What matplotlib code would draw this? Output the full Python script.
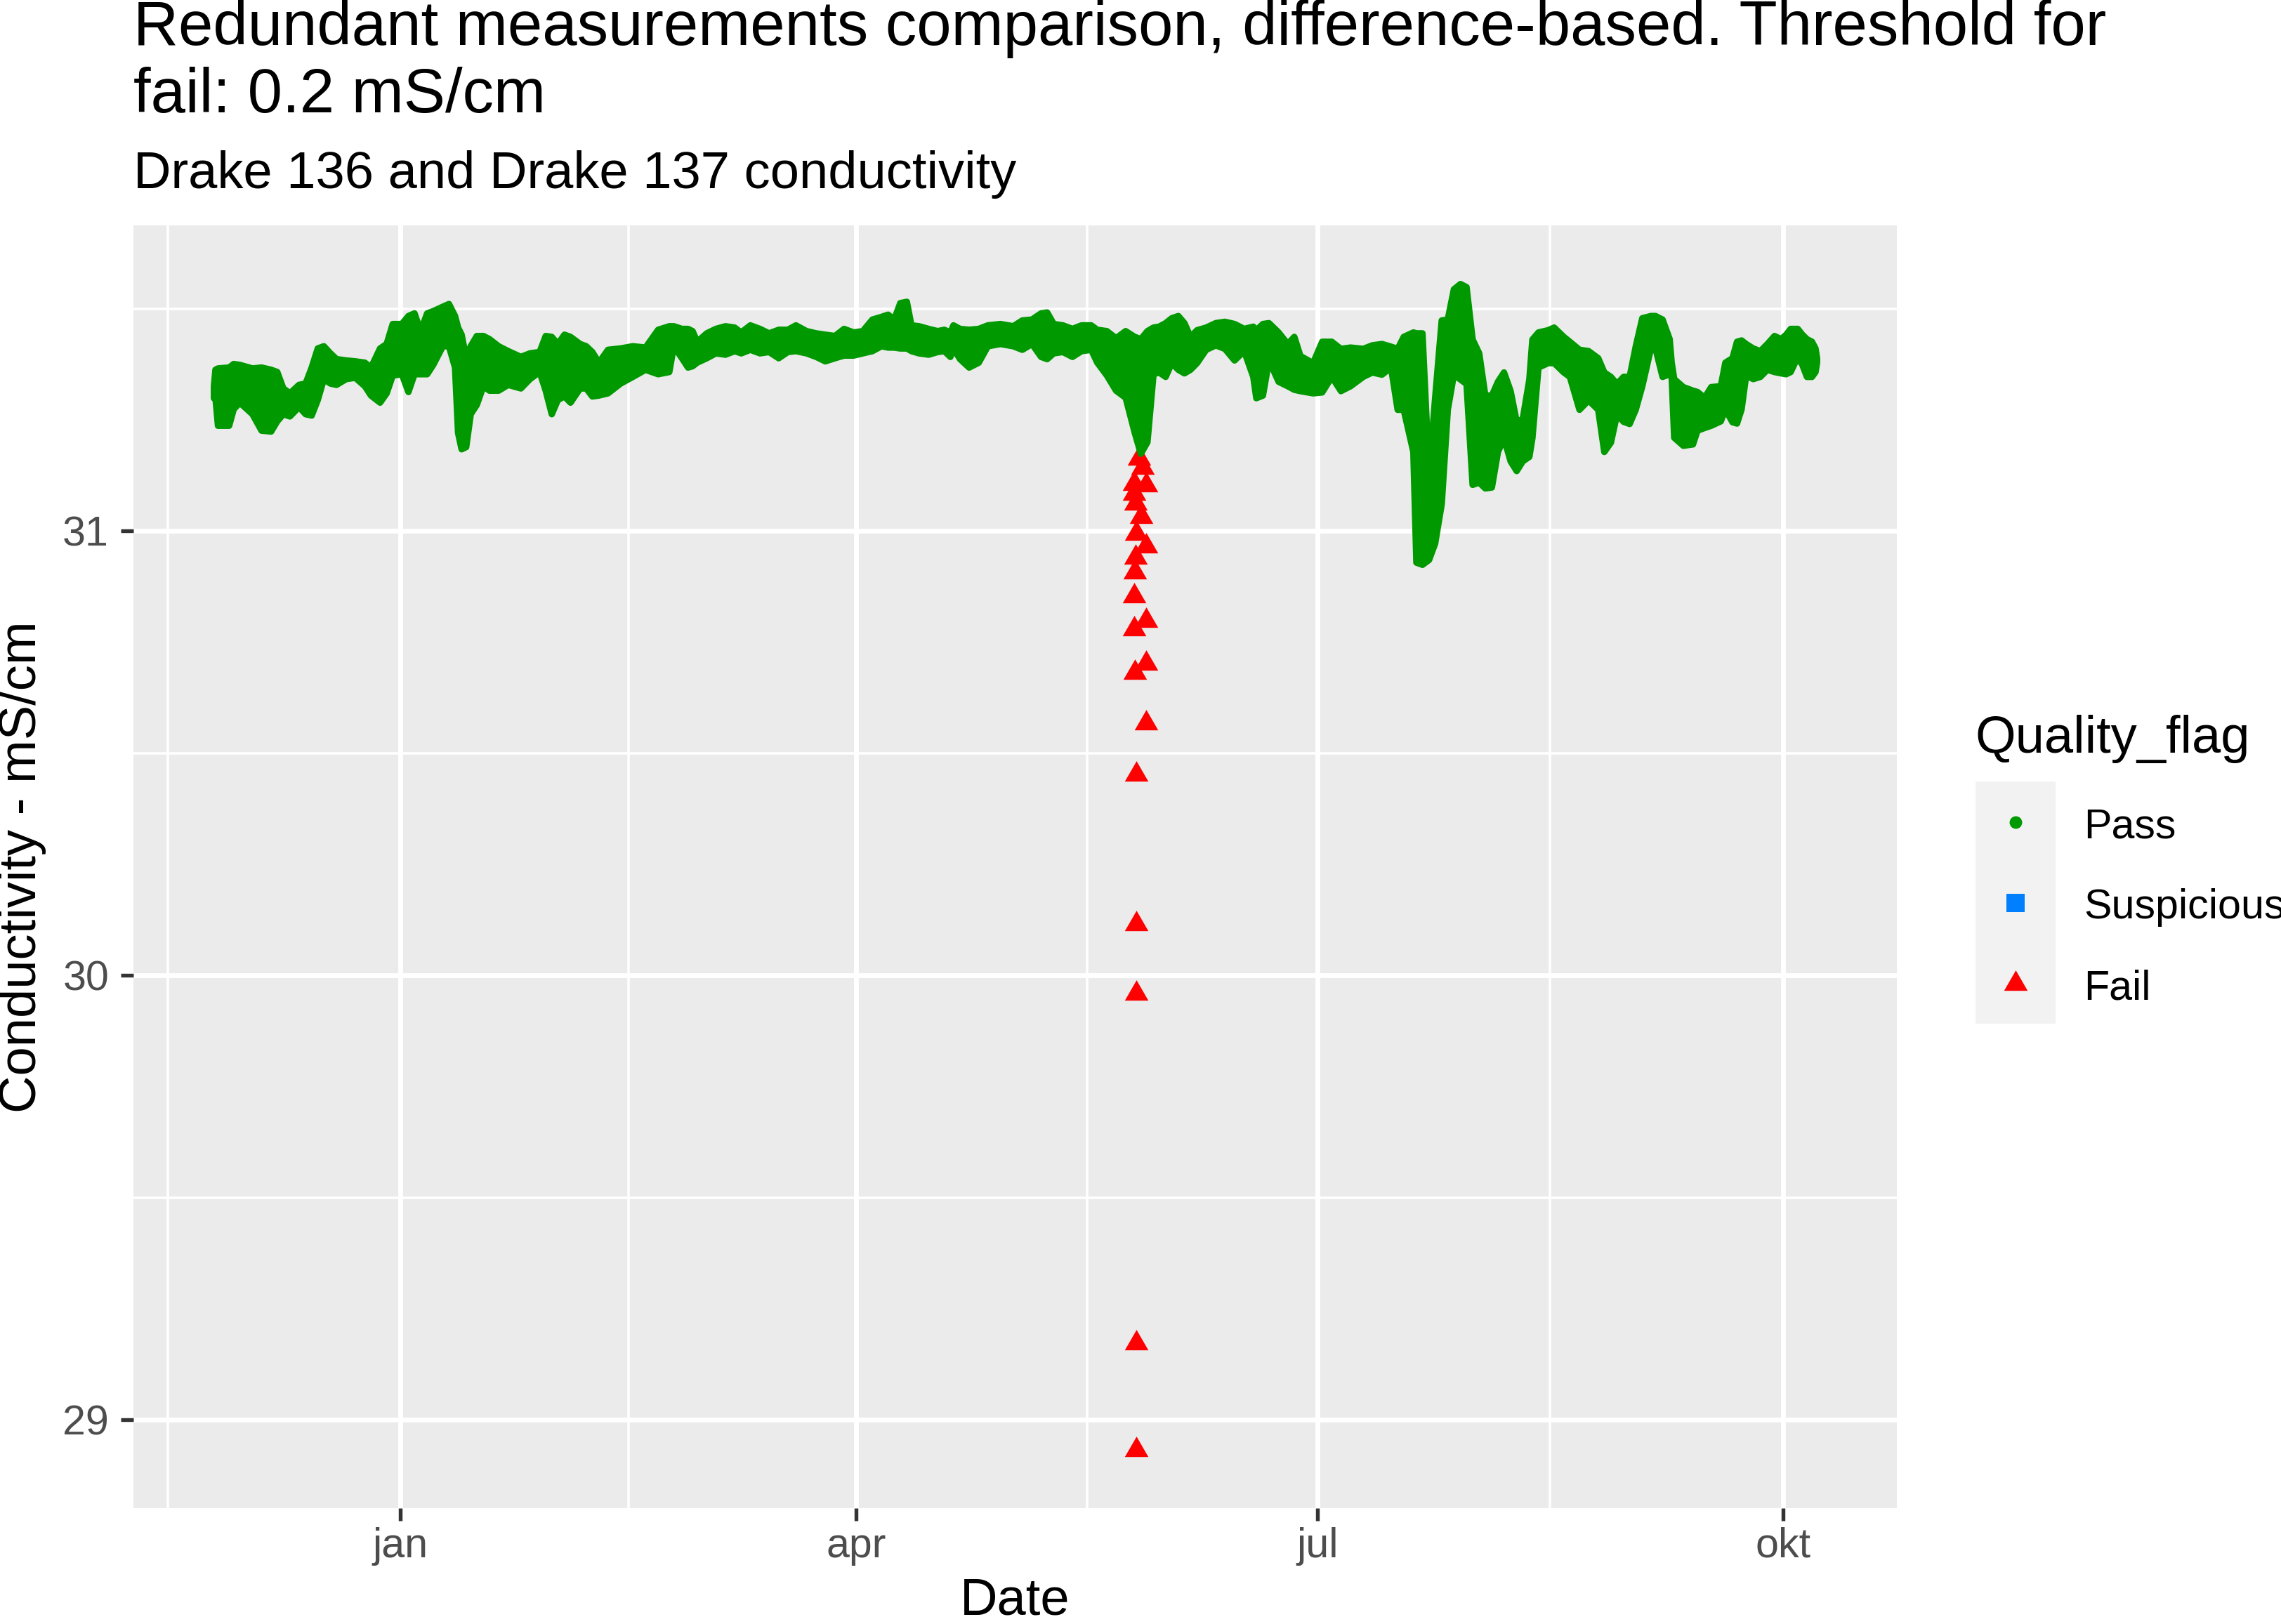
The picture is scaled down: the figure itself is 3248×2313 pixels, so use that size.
"""Redundant conductivity measurements (Drake 136 / Drake 137), quality flags."""

import matplotlib
matplotlib.use("Agg")
import matplotlib.pyplot as plt
import matplotlib.dates as mdates
from matplotlib.lines import Line2D
import numpy as np
import pandas as pd

plt.rcParams["font.family"] = ["Liberation Sans", "DejaVu Sans"]

START = pd.Timestamp("2019-01-01")

# Pass points: days since 1 Jan, upper and lower edge of the point cloud (mS/cm)
pass_days = [
    -36.9, -36.6, -36.1, -33.9, -33.0, -31.8, -29.3, -27.5, -25.6, -24.4,
    -23.2, -21.9, -20.1, -18.8, -17.6, -16.4, -15.2, -13.9, -12.7, -10.8,
    -9.0, -7.1, -5.9, -4.1, -2.8, -1.6, 0.2, 1.5, 2.7, 3.9,
    5.2, 6.4, 8.3, 9.5, 10.7, 11.3, 12.0, 12.9, 13.8, 15.0,
    16.3, 17.5, 19.3, 21.2, 23.7, 25.5, 27.4, 28.6, 29.8, 31.0,
    32.3, 33.5, 35.4, 36.6, 37.8, 39.1, 40.9, 43.4, 45.8, 48.3, 50.8,
    53.0, 53.9, 55.5, 56.7, 57.6, 58.5, 60.4, 62.2, 64.1, 65.9,
    67.2, 69.0, 70.9, 72.7, 74.6, 76.4, 78.0, 80.1, 82.0, 83.8,
    85.7, 87.5, 89.4, 91.2, 93.1, 94.9, 96.2, 97.4, 98.6, 99.9,
    100.8, 102.3, 104.2, 106.0, 107.3, 108.5, 109.1, 110.4, 112.2, 114.1,
    115.9, 118.4, 120.9, 122.7, 124.6, 126.4, 127.6, 128.9, 130.7, 132.6,
    134.4, 136.3, 137.5, 139.4, 141.2, 143.1, 144.9, 146.1, 147.4, 148.6,
    149.7, 151.0, 152.2, 153.5, 154.7, 155.9, 157.2, 159.0, 160.9, 162.7,
    164.6, 166.5, 168.3, 168.9, 170.2, 171.4, 173.3, 175.1, 176.4, 177.6,
    180.1, 181.9, 183.8, 185.6, 187.5, 190.0, 191.8, 193.7, 195.5, 196.8,
    198.0, 199.9, 200.5, 201.7, 203.0, 204.2, 205.5, 206.7, 207.9, 209.2,
    210.4, 211.6, 212.9, 214.1, 215.4, 216.6, 217.8, 219.1, 220.3, 221.5,
    222.8, 223.4, 224.6, 226.5, 227.7, 229.6, 230.8, 232.7, 234.5, 236.4,
    237.6, 238.9, 240.1, 241.4, 242.6, 243.8, 245.1,
    246.8, 247.7, 249.1, 250.5, 250.9, 251.4, 253.2, 255.1, 256.0, 257.4,
    258.7, 260.6, 261.5, 262.9, 263.8, 264.7, 265.6, 267.0, 268.4, 269.8,
    271.2, 272.5, 273.5, 274.4, 275.8, 276.7, 277.6, 278.6, 279.3, 279.6,
]
pass_high = [
    31.327, 31.364, 31.367, 31.369, 31.377, 31.375, 31.367, 31.369, 31.364, 31.359,
    31.322, 31.311, 31.330, 31.333, 31.369, 31.412, 31.417, 31.401, 31.388, 31.385,
    31.383, 31.380, 31.369, 31.412, 31.422, 31.467, 31.467, 31.485, 31.491, 31.451,
    31.491, 31.496, 31.506, 31.512, 31.485, 31.459, 31.443, 31.390, 31.417, 31.440,
    31.440, 31.433, 31.417, 31.406, 31.393, 31.401, 31.404, 31.440, 31.438, 31.422,
    31.443, 31.438, 31.422, 31.417, 31.404, 31.380, 31.409, 31.412, 31.417, 31.414, 31.454,
    31.462, 31.462, 31.456, 31.456, 31.451, 31.427, 31.446, 31.456, 31.462, 31.459,
    31.448, 31.464, 31.456, 31.446, 31.454, 31.454, 31.464, 31.451, 31.446, 31.443,
    31.440, 31.456, 31.448, 31.451, 31.477, 31.483, 31.488, 31.477, 31.514, 31.517,
    31.464, 31.462, 31.456, 31.451, 31.454, 31.448, 31.464, 31.456, 31.454, 31.456,
    31.464, 31.467, 31.462, 31.475, 31.477, 31.491, 31.493, 31.467, 31.464, 31.456,
    31.464, 31.464, 31.454, 31.451, 31.435, 31.451, 31.438, 31.433, 31.451, 31.459,
    31.461, 31.469, 31.480, 31.485, 31.469, 31.438, 31.453, 31.459, 31.469, 31.472,
    31.467, 31.456, 31.461, 31.453, 31.467, 31.469, 31.448, 31.422, 31.438, 31.395,
    31.379, 31.427, 31.427, 31.411, 31.414, 31.411, 31.419, 31.422, 31.416, 31.411,
    31.438, 31.448, 31.446, 31.446, 31.130, 31.300, 31.475, 31.477, 31.545, 31.557,
    31.550, 31.432, 31.401, 31.306, 31.306, 31.337, 31.358, 31.316, 31.247, 31.253,
    31.342, 31.432, 31.448, 31.453, 31.459, 31.438, 31.427, 31.409, 31.406, 31.390,
    31.358, 31.348, 31.332, 31.348, 31.348, 31.416, 31.480,
    31.485, 31.485, 31.477, 31.433, 31.380, 31.343, 31.325, 31.317, 31.314, 31.301,
    31.325, 31.327, 31.380, 31.390, 31.427, 31.430, 31.422, 31.412, 31.406, 31.422,
    31.440, 31.433, 31.443, 31.456, 31.456, 31.443, 31.433, 31.427, 31.412, 31.390,
]
pass_low = [
    31.300, 31.301, 31.238, 31.238, 31.275, 31.290, 31.264, 31.227, 31.225, 31.248,
    31.264, 31.259, 31.280, 31.264, 31.261, 31.296, 31.343, 31.333, 31.330, 31.343,
    31.346, 31.327, 31.306, 31.290, 31.311, 31.351, 31.354, 31.314, 31.354, 31.354,
    31.354, 31.375, 31.417, 31.417, 31.369, 31.222, 31.185, 31.190, 31.264, 31.285,
    31.327, 31.317, 31.317, 31.330, 31.322, 31.343, 31.359, 31.317, 31.264, 31.296,
    31.304, 31.290, 31.322, 31.322, 31.304, 31.306, 31.311, 31.333, 31.348, 31.364, 31.354,
    31.359, 31.417, 31.390, 31.369, 31.372, 31.380, 31.390, 31.401, 31.398, 31.406,
    31.401, 31.409, 31.401, 31.404, 31.390, 31.404, 31.406, 31.401, 31.393, 31.383,
    31.390, 31.396, 31.396, 31.401, 31.406, 31.417, 31.414, 31.414, 31.412, 31.412,
    31.406, 31.401, 31.398, 31.404, 31.406, 31.393, 31.412, 31.388, 31.369, 31.380,
    31.417, 31.422, 31.417, 31.409, 31.422, 31.393, 31.388, 31.401, 31.404, 31.393,
    31.406, 31.409, 31.380, 31.351, 31.317, 31.301, 31.222, 31.175, 31.201, 31.354,
    31.358, 31.348, 31.379, 31.364, 31.356, 31.364, 31.379, 31.409, 31.419, 31.411,
    31.385, 31.406, 31.348, 31.300, 31.306, 31.385, 31.337, 31.327, 31.319, 31.316,
    31.311, 31.313, 31.348, 31.316, 31.327, 31.348, 31.358, 31.353, 31.369, 31.274,
    31.274, 31.179, 30.930, 30.925, 30.936, 30.973, 31.062, 31.274, 31.353, 31.342,
    31.332, 31.105, 31.110, 31.097, 31.099, 31.179, 31.210, 31.158, 31.136, 31.158,
    31.168, 31.210, 31.369, 31.379, 31.379, 31.358, 31.348, 31.274, 31.295, 31.274,
    31.179, 31.200, 31.263, 31.247, 31.242, 31.274, 31.327,
    31.412, 31.412, 31.348, 31.354, 31.348, 31.211, 31.193, 31.196, 31.227, 31.233,
    31.238, 31.248, 31.275, 31.246, 31.243, 31.275, 31.351, 31.343, 31.348, 31.364,
    31.359, 31.356, 31.354, 31.359, 31.393, 31.375, 31.348, 31.348, 31.359, 31.380,
]

# Fail points
fail_days = [
    145.8, 146.5, 144.9, 147.2, 144.9, 145.1, 146.3, 145.3, 147.2, 145.1, 145.0,
    144.9, 147.2, 144.9, 147.2, 145.0, 147.2, 145.2, 145.2, 145.2, 145.2, 145.2,
]
fail_values = [
    31.164, 31.143, 31.107, 31.104, 31.084, 31.062, 31.032, 30.994, 30.966, 30.941,
    30.908, 30.854, 30.798, 30.780, 30.702, 30.681, 30.567, 30.452, 30.115, 29.960,
    29.172, 28.932,
]

# Suspicious points: none in this period
suspicious_days = []
suspicious_values = []

flag_labels = ["Pass", "Suspicious", "Fail"]
flag_colors = ["#009900", "#0080FF", "#FF0000"]

month_labels = {1: "jan", 4: "apr", 7: "jul", 10: "okt"}

W, H = 3248, 2313
DPI = 300
TRI = (3, 0, 0)
TRI_SIZE = 9.3


def to_dates(days):
    return mdates.date2num(START + pd.to_timedelta(np.asarray(days, dtype=float), unit="D"))


def month_formatter(x, pos):
    return month_labels.get(mdates.num2date(x).month, "")


fig = plt.figure(figsize=(W / DPI, H / DPI), dpi=DPI)
ax = fig.add_axes([190 / W, 1 - 2148 / H, (2701 - 190) / W, (2148 - 321) / H])
ax.set_facecolor("#EBEBEB")
for spine in ax.spines.values():
    spine.set_visible(False)

x_pass = to_dates(pass_days)
ax.scatter(to_dates(fail_days), fail_values, marker=TRI, s=TRI_SIZE ** 2,
           color=flag_colors[2], linewidths=0, zorder=2)
ax.scatter(to_dates(suspicious_days), suspicious_values, marker="s",
           color=flag_colors[1], zorder=2)
ax.fill_between(x_pass, pass_low, pass_high, facecolor=flag_colors[0],
                edgecolor=flag_colors[0], linewidth=2.2, joinstyle="round",
                zorder=3)

quarters = pd.date_range("2018-10-01", "2020-01-01", freq="QS")
major = [q for q in quarters if pd.Timestamp("2019-01-01") <= q <= pd.Timestamp("2019-10-01")]
minor = [quarters[i] + (quarters[i + 1] - quarters[i]) / 2 for i in range(len(quarters) - 1)]
ax.set_xticks(mdates.date2num(major))
ax.set_xticks(mdates.date2num(minor), minor=True)
ax.xaxis.set_major_formatter(plt.FuncFormatter(month_formatter))
ax.set_yticks([29, 30, 31])
ax.set_yticks([28.5, 29.5, 30.5, 31.5], minor=True)
ax.set_yticklabels(["29", "30", "31"])

# limits with ggplot-style 5 % expansion (set after the ticks)
x_all = np.concatenate([x_pass, to_dates(fail_days)])
y_all = np.concatenate([pass_low, pass_high, fail_values])
x_pad = 0.05 * (x_all.max() - x_all.min())
y_pad = 0.05 * (y_all.max() - y_all.min())
ax.set_xlim(x_all.min() - x_pad, x_all.max() + x_pad)
ax.set_ylim(y_all.min() - y_pad, y_all.max() + y_pad)

ax.grid(which="major", color="white", linewidth=1.65)
ax.grid(which="minor", color="white", linewidth=0.85)
ax.set_axisbelow(True)
ax.tick_params(which="major", length=4.4, width=1.3, color="#333333",
               labelsize=14.2, labelcolor="#4D4D4D")
ax.tick_params(axis="x", which="major", pad=2)
ax.tick_params(axis="y", which="major", pad=4)
ax.tick_params(which="minor", length=0)

fig.text(190 / W, 1 - 64 / H,
         "Redundant measurements comparison, difference-based. Threshold for",
         fontsize=21.3, va="baseline", ha="left")
fig.text(190 / W, 1 - 160 / H, "fail: 0.2 mS/cm",
         fontsize=21.3, va="baseline", ha="left")
fig.text(190 / W, 1 - 268 / H, "Drake 136 and Drake 137 conductivity",
         fontsize=17.8, va="baseline", ha="left")
fig.text(1445.5 / W, 1 - 2300 / H, "Date", fontsize=17.8, ha="center", va="baseline")
fig.text(32 / W, 1 - 1234.5 / H, "Conductivity - mS/cm", fontsize=17.8,
         rotation=90, ha="center", va="center")

# legend
leg = fig.add_axes([2813 / W, 1 - 1458 / H, 114 / W, 345 / H])
leg.set_facecolor("#F2F2F2")
leg.set_xticks([])
leg.set_yticks([])
for spine in leg.spines.values():
    spine.set_visible(False)
leg.set_xlim(0, 1)
leg.set_ylim(0, 3)
leg_markers = [("o", 4.3), ("s", 6.2), (TRI, TRI_SIZE)]
for i, (label, color, (marker, size)) in enumerate(zip(flag_labels, flag_colors, leg_markers)):
    yc = 2.5 - i
    leg.add_line(Line2D([0.5], [yc], marker=marker, markersize=size, color=color,
                        markeredgewidth=0, linestyle="none"))
    fig.text(2967 / W, 1 - (1172 + 115.5 * i + 21) / H, label, fontsize=14.2,
             va="baseline", ha="left")
fig.text(2813 / W, 1 - 1072 / H, "Quality_flag", fontsize=17.8, va="baseline", ha="left")

fig.savefig("out.png", dpi=DPI)
